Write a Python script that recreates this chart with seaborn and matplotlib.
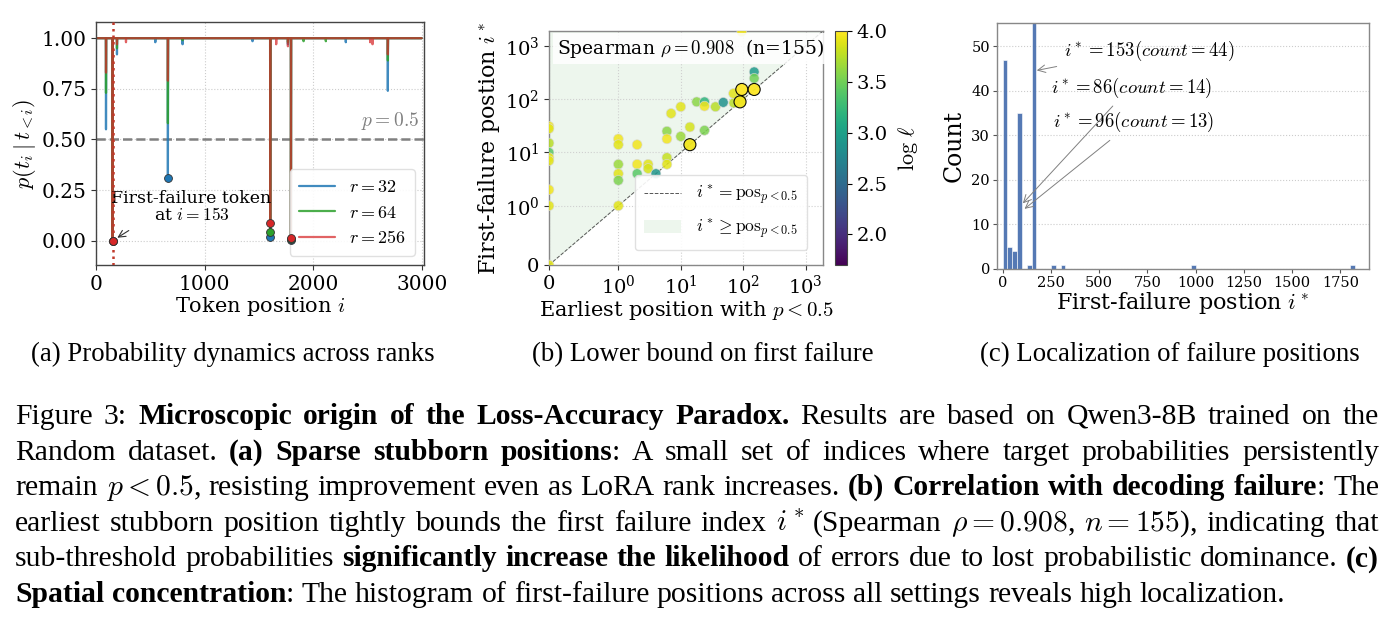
import numpy as np
import pandas as pd
import matplotlib
matplotlib.use("Agg")
import matplotlib.pyplot as plt
import seaborn as sns
from matplotlib.colors import Normalize
from matplotlib.cm import ScalarMappable
from matplotlib.lines import Line2D
from matplotlib.patches import Patch
from matplotlib.ticker import NullLocator

# ---------------- data: (a) probability dynamics ----------------
seq_len = 3000
rank_labels = ["$r=32$", "$r=64$", "$r=256$"]
dip_positions = [92, 153, 193, 276, 546, 662, 797, 1441, 1604, 1659, 1767, 1795, 1911, 2116, 2300, 2524, 2546, 2687]
p_r32 = [0.55, 0.0, 0.92, 1.0, 0.98, 0.31, 0.97, 0.985, 0.016, 1.0, 0.97, 0.005, 1.0, 1.0, 0.98, 1.0, 1.0, 0.74]
p_r64 = [0.73, 0.0, 0.95, 1.0, 1.0, 0.58, 0.99, 1.0, 0.041, 1.0, 0.98, 0.008, 0.985, 0.985, 1.0, 1.0, 1.0, 0.89]
p_r256 = [0.83, 0.0, 0.97, 0.98, 1.0, 0.79, 1.0, 1.0, 0.086, 0.97, 0.96, 0.012, 1.0, 1.0, 1.0, 0.98, 0.97, 0.92]
first_failure_token = 153
threshold = 0.5

# ---------------- data: (b) lower bound ----------------
earliest_pos = [0, 0, 0, 0, 0, 0, 0, 0, 0,
                1, 1, 1, 1, 1, 1,
                2, 2, 2, 3, 3, 4,
                6, 6, 6, 6, 7, 10, 10, 14, 14,
                18, 24, 24, 24, 36, 48, 71, 70, 89, 95, 150, 150, 150, 95, 92]
first_fail_pos = [31, 28, 15, 10, 8, 7, 2, 1, 0,
                  18, 14, 6, 4, 3, 1,
                  14, 6, 4, 6, 5, 4,
                  25, 18, 8, 6, 54, 72, 20, 30, 14,
                  89, 89, 74, 26, 72, 87, 85, 128, 89, 152, 152, 325, 246, 1850, 100]
log_ell = [3.95, 3.9, 3.75, 3.4, 3.95, 3.9, 3.95, 3.9, 3.9,
           3.95, 3.9, 3.65, 3.9, 3.55, 3.9,
           3.95, 3.95, 3.4, 3.9, 3.85, 2.9,
           3.6, 3.95, 3.8, 3.9, 3.9, 3.9, 3.65, 3.85, 3.95,
           3.6, 3.2, 3.95, 3.55, 3.75, 2.85, 3.75, 3.9, 3.95, 4.0, 4.0, 2.95, 3.5, 3.95, 3.85]
n_runs = [1, 1, 1, 1, 1, 1, 1, 1, 1,
          1, 1, 1, 1, 1, 1,
          1, 1, 1, 1, 1, 1,
          1, 1, 1, 1, 1, 1, 1, 1, 2,
          1, 1, 1, 1, 1, 1, 1, 1, 2, 3, 3, 1, 1, 1, 1]
spearman_rho = 0.908
n_samples = 155

# ---------------- data: (c) histogram ----------------
hist_bin_left = [0, 25, 50, 75, 125, 150, 250, 300, 975, 1800]
hist_counts = [47, 5, 4, 35, 1, 59, 1, 1, 1, 1]
hist_bin_width = 25
annot_labels = ["$i^*=153(count=44)$", "$i^*=86(count=14)$", "$i^*=96(count=13)$"]
annot_targets_x = [170, 100, 108]
annot_targets_y = [44.5, 14.5, 13.3]

# ---------------- captions ----------------
sub_captions = ["(a) Probability dynamics across ranks",
                "(b) Lower bound on first failure",
                "(c) Localization of failure positions"]
caption_lines = [
    "Figure 3: **Microscopic origin of the Loss-Accuracy Paradox.** Results are based on Qwen3-8B trained on the",
    "Random dataset. **(a) Sparse stubborn positions**: A small set of indices where target probabilities persistently",
    "remain $p<0.5$, resisting improvement even as LoRA rank increases. **(b) Correlation with decoding failure**: The",
    "earliest stubborn position tightly bounds the first failure index $i^*$ (Spearman $\\rho=0.908$, $n=155$), indicating that",
    "sub-threshold probabilities **significantly increase the likelihood** of errors due to lost probabilistic dominance. **(c)**",
    "**Spatial concentration**: The histogram of first-failure positions across all settings reveals high localization.",
]

# ---------------- style ----------------
sns.set_style("white")
plt.rcParams["font.family"] = ["DejaVu Serif"]
plt.rcParams["mathtext.fontset"] = "cm"
plt.rcParams["axes.unicode_minus"] = False
plt.rcParams["text.color"] = "black"
plt.rcParams["axes.labelcolor"] = "black"
plt.rcParams["xtick.color"] = "black"
plt.rcParams["ytick.color"] = "black"

W, H, DPI = 1394, 626, 100
fig = plt.figure(figsize=(W / DPI, H / DPI), dpi=DPI)
fig.patch.set_facecolor("white")


def ax_rect(left, top, right, bottom):
    return [left / W, 1 - bottom / H, (right - left) / W, (bottom - top) / H]


def style_spines(ax, color):
    for s in ax.spines.values():
        s.set_visible(True)
        s.set_color(color)
        s.set_linewidth(1.0)


# ---------------- panel (a) ----------------
axA = fig.add_axes(ax_rect(96, 22, 424, 265))
colors = ["#1f77b4", "#2ca02c", "#d62728"]
alphas = [0.85, 0.85, 0.72]
positions = np.arange(seq_len)
for lab, vals, c, a in zip(rank_labels, [p_r32, p_r64, p_r256], colors, alphas):
    prob = np.ones(seq_len)
    prob[dip_positions] = vals
    sns.lineplot(x=positions, y=prob, color=c, alpha=a, lw=1.6, ax=axA, label=lab)
for vals, c in zip([p_r32, p_r64, p_r256], colors):
    xs = [p for p, v in zip(dip_positions, vals) if v < threshold]
    ys = [v for v in vals if v < threshold]
    sns.scatterplot(x=xs, y=ys, color=c, edgecolor="#333333", linewidth=0.6, s=32,
                    zorder=6, ax=axA, legend=False)
axA.axvline(first_failure_token, color="#c0392b", ls=(0, (1, 1.6)), lw=1.8, zorder=4)
axA.axhline(threshold, color="gray", ls="--", lw=1.8, zorder=1)
axA.text(2975, 0.535, "$p=0.5$", color="gray", fontsize=14, ha="right", va="bottom")
axA.annotate("First-failure token\nat $i=153$", xy=(first_failure_token, 0.0),
             xytext=(880, 0.165), fontsize=12.5, ha="center", va="center",
             linespacing=1.0,
             arrowprops=dict(arrowstyle="->", color="#333333", lw=0.8,
                             relpos=(0.17, 0.0), shrinkA=4, shrinkB=4))
axA.set_xlim(0, 3020)
axA.set_ylim(-0.12, 1.08)
axA.set_xticks([0, 1000, 2000, 3000])
axA.set_yticks([0.0, 0.25, 0.5, 0.75, 1.0])
axA.set_yticklabels(["0.00", "0.25", "0.50", "0.75", "1.00"])
axA.tick_params(labelsize=14.5, length=3.5, color="#333333", direction="out", bottom=True, left=True)
axA.grid(True, ls=":", color="#cccccc", lw=0.8)
axA.set_xlabel("Token position $i$", fontsize=15, labelpad=1)
axA.set_ylabel(r"$p(t_i\mid t_{<i})$", fontsize=16, labelpad=2)
style_spines(axA, "#444444")
leg = axA.legend(loc="lower right", fontsize=13, handlelength=2.0, borderpad=0.5,
                 labelspacing=0.4, handletextpad=0.8, framealpha=0.9,
                 edgecolor="#dddddd", bbox_to_anchor=(1.0, 0.0))
for line in leg.get_lines():
    line.set_linewidth(1.6)

# ---------------- panel (b) ----------------
axB = fig.add_axes(ax_rect(549, 31, 823, 265))
lim = 1900
axB.set_xscale("symlog", linthresh=1, linscale=1)
axB.set_yscale("symlog", linthresh=1, linscale=1)
diag = np.array([0, lim])
fill_col = "#dff0df"
axB.fill_between(diag, diag, [lim, lim], color=fill_col, alpha=0.55, lw=0, zorder=0)
axB.plot(diag, diag, ls="--", color="#555555", lw=0.7, zorder=1)
df_b = pd.DataFrame({"earliest": earliest_pos, "first_fail": first_fail_pos,
                     "log_ell": log_ell, "runs": n_runs})
single = df_b[df_b["runs"] == 1]
multi = df_b[df_b["runs"] > 1]
sns.scatterplot(data=single, x="earliest", y="first_fail", hue="log_ell", palette="viridis",
                hue_norm=(1.7, 4.0), s=50, edgecolor="#d8d8d8", linewidth=0.5, alpha=0.85,
                legend=False, ax=axB, zorder=3)
sns.scatterplot(data=multi, x="earliest", y="first_fail", hue="log_ell", palette="viridis",
                hue_norm=(1.7, 4.0), s=75, edgecolor="black", linewidth=0.8, alpha=0.95,
                legend=False, ax=axB, zorder=4)
axB.set_xlim(0, lim)
axB.set_ylim(0, lim)
axB.set_xticks([0, 1, 10, 100, 1000])
axB.set_yticks([0, 1, 10, 100, 1000])
axB.xaxis.set_minor_locator(NullLocator())
axB.yaxis.set_minor_locator(NullLocator())
axB.tick_params(labelsize=14, length=3.5, color="#333333", bottom=True, left=True)
axB.grid(True, ls=":", color="#d0d0d0", lw=0.8)
axB.set_xlabel("Earliest position with $p<0.5$", fontsize=15, labelpad=1)
axB.set_ylabel("First-failure postion $i^*$", fontsize=16, labelpad=2)
style_spines(axB, "#888888")
axB.text(0.03, 0.975, "Spearman $\\rho=%.3f$  (n=%d)" % (spearman_rho, n_samples),
         transform=axB.transAxes, fontsize=13.5, ha="left", va="top", zorder=5,
         bbox=dict(facecolor="white", edgecolor="none", alpha=0.85, pad=3))
handles = [Line2D([], [], ls="--", color="#555555", lw=0.7),
           Patch(facecolor=fill_col, alpha=0.55, edgecolor="none")]
axB.legend(handles, ["$i^* = \\mathrm{pos}_{p<0.5}$", "$i^* \\geq \\mathrm{pos}_{p<0.5}$"],
           loc="lower right", fontsize=12.5, handlelength=2.1, borderpad=0.55,
           labelspacing=0.6, handletextpad=0.9, framealpha=0.9, edgecolor="#dddddd",
           bbox_to_anchor=(0.975, 0.025))

caxB = fig.add_axes(ax_rect(835, 31, 847, 265))
cb = fig.colorbar(ScalarMappable(norm=Normalize(1.7, 4.0), cmap="viridis"), cax=caxB)
cb.set_ticks([2.0, 2.5, 3.0, 3.5, 4.0])
cb.ax.tick_params(labelsize=14, length=3.5)
cb.set_label(r"$\log\,\ell$", fontsize=16, labelpad=6)
cb.outline.set_edgecolor("#444444")

# ---------------- panel (c) ----------------
axC = fig.add_axes(ax_rect(997, 23, 1369, 269))
n_bins = 73
df_c = pd.DataFrame({"center": np.array(hist_bin_left, dtype=float) + hist_bin_width / 2,
                     "count": np.array(hist_counts, dtype=float)})
sns.histplot(data=df_c, x="center", weights="count", bins=n_bins,
             binrange=(0, n_bins * hist_bin_width), color="#4c72b0", alpha=0.95,
             edgecolor="white", linewidth=0.4, ax=axC)
axC.set_xlim(-29, 1898)
axC.set_ylim(0, 55.2)
axC.set_xticks([0, 250, 500, 750, 1000, 1250, 1500, 1750])
axC.set_yticks([0, 10, 20, 30, 40, 50])
axC.tick_params(labelsize=10.5, length=3, color="#555555", bottom=True, left=True, pad=2)
axC.yaxis.grid(True, ls=":", color="#cccccc", lw=0.8)
axC.set_axisbelow(True)
axC.set_xlabel("First-failure postion $i^*$", fontsize=16, labelpad=0)
axC.set_ylabel("Count", fontsize=17, labelpad=4)
style_spines(axC, "#888888")
text_pos = [(760, 49), (668, 40.7), (677, 32.9)]
relposs = [(0.07, 0.0), (0.42, 0.0), (0.4, 0.0)]
for lab, tx, ty, (px, py), rp in zip(annot_labels, annot_targets_x, annot_targets_y, text_pos, relposs):
    axC.annotate(lab, xy=(tx, ty), xytext=(px, py), fontsize=13.5, ha="center", va="center",
                 arrowprops=dict(arrowstyle="->", color="gray", lw=0.7, relpos=rp,
                                 shrinkA=3, shrinkB=1))

# ---------------- sub captions ----------------
CAPFONT = ["Liberation Serif", "DejaVu Serif"]
for txt, cx in zip(sub_captions, [233, 703, 1170]):
    fig.text(cx / W, 1 - 361 / H, txt, fontsize=19.3, family=CAPFONT, ha="center", va="baseline")

# ---------------- main caption (justified) ----------------
renderer = fig.canvas.get_renderer()


def parse_line(line):
    parts = line.split("**")
    words = [[]]
    for k, part in enumerate(parts):
        bold = (k % 2 == 1)
        chunks = part.split(" ")
        for j, ch in enumerate(chunks):
            if j > 0:
                words.append([])
            if ch:
                words[-1].append((ch, bold))
    return [w for w in words if w]


def draw_line(line, y_px, x0, x1, size, justify):
    words = parse_line(line)
    objs = []
    for w in words:
        pieces = []
        for txt, bold in w:
            t = fig.text(0, 0, txt, fontsize=size, family=CAPFONT, color="black",
                         fontweight="bold" if bold else "normal", ha="left", va="baseline")
            pieces.append((t, t.get_window_extent(renderer).width))
        objs.append(pieces)
    wwidths = [sum(p[1] for p in pieces) for pieces in objs]
    if justify:
        gap = (x1 - x0 - sum(wwidths)) / (len(objs) - 1)
    else:
        gap = size * DPI / 72 * 0.25
    x = x0
    for pieces, ww in zip(objs, wwidths):
        xx = x
        for t, pw in pieces:
            t.set_position((xx / W, 1 - y_px / H))
            xx += pw
        x += ww + gap


baselines = [424, 459.5, 495, 531, 566.5, 602]
for i, (line, yb) in enumerate(zip(caption_lines, baselines)):
    draw_line(line, yb, 15, 1379, 21.3, justify=(i < len(caption_lines) - 1))

fig.savefig("out.png", dpi=DPI, facecolor="white")
